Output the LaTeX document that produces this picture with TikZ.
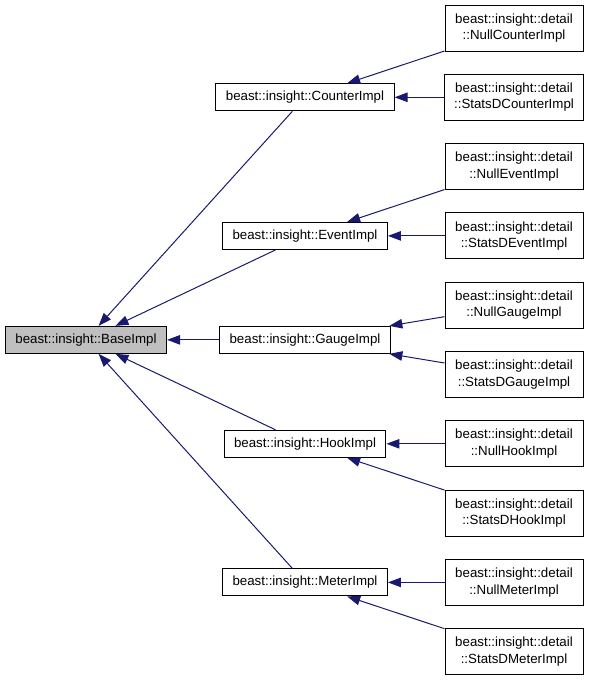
\documentclass[tikz,border=0pt]{standalone}
\usepackage{fontspec}
\setmainfont{Liberation Sans}
\usetikzlibrary{arrows.meta,calc,positioning}
\definecolor{edgeblue}{RGB}{25,25,112}
\definecolor{basegray}{RGB}{191,191,191}
\tikzset{%
	cls/.style      = {draw=black, fill=white, rectangle, line width=1pt, minimum height=27pt, inner xsep=10pt, font=\fontsize{13.3}{16.5}\selectfont}, % class box
	base/.style     = {cls, fill=basegray}, % Root
	impl/.style     = {cls, minimum width=138pt, minimum height=46pt, align=center}, % Leaf
	waypoint/.style = {coordinate},
	edge/.style     = {draw=edgeblue, line width=1pt, {Triangle[length=13pt,width=9.5pt]}-},
}
\begin{document}
\begin{tikzpicture}[node distance=69.3pt]
	\useasboundingbox (0,0) rectangle (592pt,-680pt);
	\node [impl] (ncounter) at (514pt,-28pt) {beast::insight::detail\\::NullCounterImpl};
	\node [impl] (scounter) [below of=ncounter] {beast::insight::detail\\::StatsDCounterImpl};
	\node [impl] (nevent) [below of=scounter] {beast::insight::detail\\::NullEventImpl};
	\node [impl] (sevent) [below of=nevent] {beast::insight::detail\\::StatsDEventImpl};
	\node [impl] (ngauge) [below of=sevent] {beast::insight::detail\\::NullGaugeImpl};
	\node [impl] (sgauge) [below of=ngauge] {beast::insight::detail\\::StatsDGaugeImpl};
	\node [impl] (nhook) [below of=sgauge] {beast::insight::detail\\::NullHookImpl};
	\node [impl] (shook) [below of=nhook] {beast::insight::detail\\::StatsDHookImpl};
	\node [impl] (nmeter) [below of=shook] {beast::insight::detail\\::NullMeterImpl};
	\node [impl] (smeter) [below of=nmeter] {beast::insight::detail\\::StatsDMeterImpl};
	\node [waypoint] (wgauge) at ($ (ngauge)!0.5!(sgauge) $) {};

	\node [cls] (counter) [left of=scounter,node distance=209pt] {beast::insight::CounterImpl};
	\node [cls] (event) [left of=sevent,node distance=209pt] {beast::insight::EventImpl};
	\node [cls] (gauge) [left of=wgauge,node distance=209pt] {beast::insight::GaugeImpl};
	\node [cls] (hook) [left of=nhook,node distance=209pt] {beast::insight::HookImpl};
	\node [cls] (meter) [left of=nmeter,node distance=209pt] {beast::insight::MeterImpl};
	\node [base] (base) [left of=gauge,node distance=219pt] {beast::insight::BaseImpl};

	\draw [edge] (base) -- (counter);
	\draw [edge] (base) -- (event);
	\draw [edge] (base) -- (gauge);
	\draw [edge] (base) -- (hook);
	\draw [edge] (base) -- (meter);
	\draw [edge] (counter) -- (ncounter);
	\draw [edge] (counter) -- (scounter);
	\draw [edge] (event) -- (nevent);
	\draw [edge] (event) -- (sevent);
	\draw [edge] (gauge) -- (ngauge);
	\draw [edge] (gauge) -- (sgauge);
	\draw [edge] (hook) -- (nhook);
	\draw [edge] (hook) -- (shook);
	\draw [edge] (meter) -- (nmeter);
	\draw [edge] (meter) -- (smeter);
\end{tikzpicture}
\end{document}
